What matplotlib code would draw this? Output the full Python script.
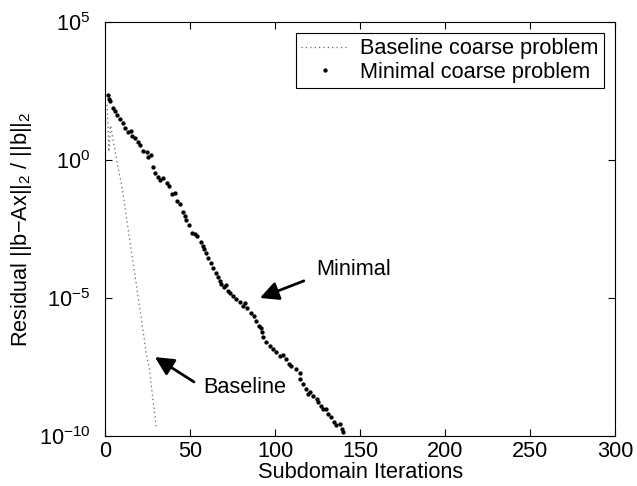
import numpy as np
import matplotlib
matplotlib.use("Agg")
import matplotlib.pyplot as plt

plt.rcParams['font.family'] = ['Liberation Sans', 'DejaVu Sans']
plt.rcParams['mathtext.fontset'] = 'custom'
plt.rcParams['mathtext.rm'] = 'Liberation Sans'
plt.rcParams['mathtext.it'] = 'Liberation Sans:italic'
plt.rcParams['mathtext.default'] = 'regular'

FS = 15.7

# baseline coarse problem: iteration -> log10 residual
base_iter = [1, 2, 3, 4, 5, 6, 7, 8, 9, 10, 11, 12, 13, 14, 15, 16, 17, 18, 19, 20,
             21, 22, 23, 24, 25, 26, 27, 28, 29, 30]
base_log = [2.0, 0.3, 1.25, 0.9, 0.55, 0.2, -0.15, -0.45, -0.75, -1.1, -1.5, -1.95,
            -2.35, -2.8, -3.2, -3.6, -4.05, -4.45, -4.9, -5.3, -5.7, -6.15, -6.55,
            -7.05, -7.3, -7.6, -8.2, -8.7, -9.2, -9.75]

# minimal coarse problem
min_iter = [1.2, 2.0, 2.6, 4.2, 5.6, 6.5, 8.5, 10.2, 11.4, 13.3, 15.0, 15.6, 17.3, 19.1,
            20.2, 22.1, 24.4, 25.0, 26.7, 27.9, 29.0, 30.8, 31.9, 33.9, 36.1, 37.4, 39.1,
            40.9, 42.1, 43.8, 45.6, 46.7, 47.7, 49.3, 51.2, 52.6, 54.0, 56.0, 57.2, 57.9,
            59.0, 60.4, 61.9, 63.3, 65.0, 66.4, 67.3, 68.3, 69.7, 70.9, 72.2, 73.2, 75.1,
            76.7, 79.4, 81.0, 82.0, 83.1, 85.4, 87.3, 88.9, 90.5, 91.3, 92.4, 92.8, 94.8,
            96.7, 98.7, 100.6, 102.6, 104.5, 106.1, 108.0, 109.5, 112.4, 114.4, 114.8,
            116.3, 117.9, 119.3, 120.2, 122.2, 124.5, 125.1, 127.1, 128.0, 130.1, 131.0,
            133.0, 134.4, 136.0, 137.9, 139.0, 139.9]
min_log = [2.35, 2.22, 2.14, 1.89, 1.78, 1.64, 1.49, 1.35, 1.17, 1.02, 1.06, 0.88, 0.81,
           0.66, 0.55, 0.34, 0.30, 0.12, 0.19, -0.24, -0.49, -0.60, -0.71, -0.67, -0.82,
           -0.96, -1.25, -1.18, -1.47, -1.61, -1.87, -2.04, -2.18, -2.34, -2.64, -2.70,
           -2.76, -2.98, -3.12, -3.24, -3.38, -3.54, -3.72, -3.90, -4.11, -4.23, -4.39,
           -4.50, -4.59, -4.54, -4.75, -4.83, -4.93, -5.05, -5.14, -5.29, -5.17, -5.35,
           -5.53, -5.67, -5.83, -6.01, -6.07, -6.25, -6.43, -6.61, -6.73, -6.85, -6.97,
           -7.12, -7.07, -7.22, -7.40, -7.46, -7.58, -7.70, -7.94, -8.12, -8.30, -8.48,
           -8.42, -8.54, -8.66, -8.78, -8.90, -9.02, -9.02, -9.20, -9.32, -9.50, -9.60,
           -9.56, -9.75, -9.84]

fig = plt.figure(figsize=(6.37, 4.86), dpi=100)
ax = fig.add_axes([0.1656, 0.1029, 0.7998, 0.8519])

ax.semilogy(base_iter, 10.0 ** np.array(base_log), linestyle=(0, (1, 2.5)),
            color='0.4', lw=0.9, label='Baseline coarse problem')
ax.semilogy(min_iter, 10.0 ** np.array(min_log), linestyle='none', marker='.',
            color='k', markersize=4.2, label='Minimal coarse problem')

ax.set_xlim(0, 300)
ax.set_ylim(1e-10, 1e5)
ax.set_xticks([0, 50, 100, 150, 200, 250, 300])
ax.set_yticks([1e-10, 1e-5, 1e0, 1e5])
ax.minorticks_off()
ax.tick_params(direction='in', top=True, right=True, labelsize=FS, length=5, width=0.8)
ax.tick_params(axis='y', pad=11)
for s in ax.spines.values():
    s.set_linewidth(0.8)

ax.set_xlabel('Subdomain Iterations', fontsize=FS, labelpad=0)
ax.set_ylabel('Residual ||b\u2212Ax||$_2$ / ||b||$_2$', fontsize=FS, labelpad=3)

ax.annotate('', xy=(90.9, 10 ** -5.0), xytext=(116.8, 10 ** -4.38),
            arrowprops=dict(arrowstyle='-|>', color='k', lw=2, mutation_scale=28,
                            shrinkA=0, shrinkB=0))
ax.text(124.4, 10 ** -3.95, 'Minimal', fontsize=FS, va='center', ha='left')
ax.annotate('', xy=(29.1, 10 ** -7.14), xytext=(52.1, 10 ** -8.04),
            arrowprops=dict(arrowstyle='-|>', color='k', lw=2, mutation_scale=28,
                            shrinkA=0, shrinkB=0))
ax.text(57.4, 10 ** -8.26, 'Baseline', fontsize=FS, va='center', ha='left')

leg = ax.legend(loc='upper right', fontsize=FS, frameon=True, fancybox=False,
                edgecolor='k', framealpha=1, borderpad=0.25, labelspacing=0.1,
                handlelength=2.2, handletextpad=0.5, borderaxespad=0.5)
leg.get_frame().set_linewidth(0.8)

fig.savefig('out.png', dpi=100)
